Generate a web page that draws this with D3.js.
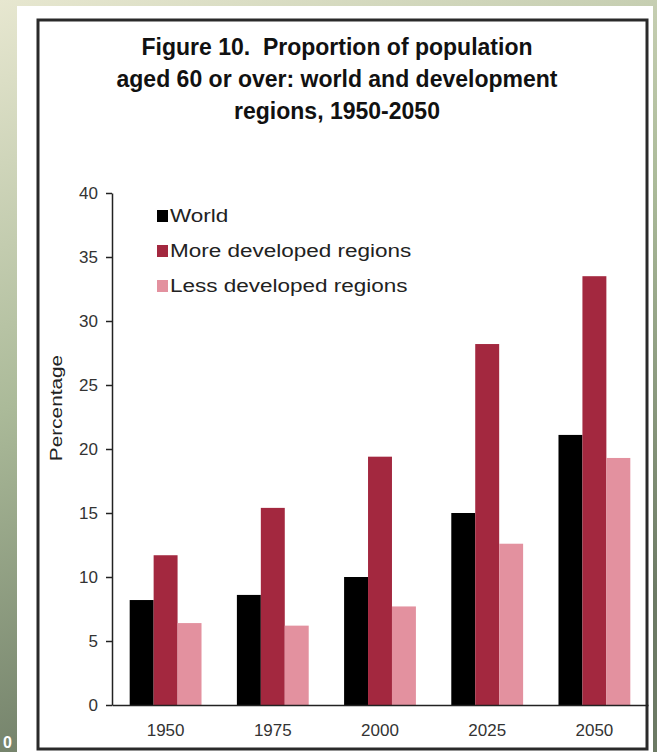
<!DOCTYPE html>
<html>
<head>
<meta charset="utf-8">
<script src="https://cdn.jsdelivr.net/npm/d3@7"></script>
<style>
  body { margin: 0; padding: 0; overflow: hidden; }
  svg { display: block; }
</style>
</head>
<body>
<script>
const width = 657;
const height = 752;

const years = ["1950", "1975", "2000", "2025", "2050"];
const seriesNames = ["World", "More developed regions", "Less developed regions"];
const seriesColors = ["#000000", "#a3283f", "#e3919f"];
const world = [8.2, 8.6, 10.0, 15.0, 21.1];
const moreDeveloped = [11.7, 15.4, 19.4, 28.2, 33.5];
const lessDeveloped = [6.4, 6.2, 7.7, 12.6, 19.3];
const yTicks = [0, 5, 10, 15, 20, 25, 30, 35, 40];
const titleLines = [
    "Figure 10.  Proportion of population",
    "aged 60 or over: world and development",
    "regions, 1950-2050"
];

const series = [world, moreDeveloped, lessDeveloped];
const fontFamily = "'Liberation Sans', Arial, sans-serif";

const svg = d3.select("body").append("svg")
    .attr("width", width)
    .attr("height", height);

// Background gradient (slide theme)
const grad = svg.append("defs").append("linearGradient")
    .attr("id", "bg")
    .attr("x1", 0).attr("y1", 0)
    .attr("x2", 0.3).attr("y2", 1);
grad.append("stop").attr("offset", 0).attr("stop-color", "#e7e7d0");
grad.append("stop").attr("offset", 0.5).attr("stop-color", "#abba99");
grad.append("stop").attr("offset", 1).attr("stop-color", "#6c7a64");

svg.append("rect")
    .attr("width", width).attr("height", height)
    .attr("fill", "url(#bg)");

// White panel and framed chart
svg.append("rect")
    .attr("x", 17).attr("y", 6)
    .attr("width", 636).attr("height", height - 6)
    .attr("fill", "white");

svg.append("rect")
    .attr("x", 38).attr("y", 20)
    .attr("width", 609).attr("height", 729)
    .attr("fill", "none")
    .attr("stroke", "#2a2a2a")
    .attr("stroke-width", 3);

svg.append("text")
    .attr("x", 3).attr("y", 748)
    .style("font-family", fontFamily)
    .style("font-size", "16px")
    .style("font-weight", "bold")
    .attr("fill", "white")
    .text("0");

// Title
svg.append("g")
    .selectAll("text")
    .data(titleLines)
    .join("text")
    .attr("x", 337)
    .attr("y", (d, i) => 55 + i * 32)
    .attr("text-anchor", "middle")
    .style("white-space", "pre")
    .style("font-family", fontFamily)
    .style("font-size", "23px")
    .style("font-weight", "bold")
    .attr("fill", "#111")
    .text(d => d);

// Scales
const x = d3.scaleBand()
    .domain(years)
    .range([112, 648])
    .paddingInner(0.33)
    .paddingOuter(0.165);

const xSub = d3.scaleBand()
    .domain(d3.range(series.length))
    .range([0, x.bandwidth()]);

const y = d3.scaleLinear()
    .domain([0, 40])
    .range([705, 193]);

// Bars
series.forEach((values, s) => {
    svg.append("g")
        .selectAll("rect")
        .data(values)
        .join("rect")
        .attr("x", (d, i) => x(years[i]) + xSub(s))
        .attr("y", d => y(d))
        .attr("width", xSub.bandwidth())
        .attr("height", d => y(0) - y(d))
        .attr("fill", seriesColors[s]);
});

// Axes
const yAxis = svg.append("g")
    .attr("transform", "translate(112,0)")
    .call(d3.axisLeft(y).tickValues(yTicks).tickSize(6).tickSizeOuter(0).tickPadding(8));

const xAxis = svg.append("g")
    .attr("transform", `translate(0,${y(0)})`)
    .call(d3.axisBottom(x).tickSize(0).tickPadding(19));

[yAxis, xAxis].forEach(g => {
    g.select(".domain").attr("stroke", "#222").attr("stroke-width", 1.5);
    g.selectAll(".tick line").attr("stroke", "#222").attr("stroke-width", 1.5);
    g.selectAll(".tick text")
        .style("font-family", fontFamily)
        .style("font-size", "17px")
        .attr("fill", "#333");
});

// Y axis title
svg.append("text")
    .attr("transform", "translate(62,408) rotate(-90) scale(1.3,1)")
    .attr("text-anchor", "middle")
    .style("font-family", fontFamily)
    .style("font-size", "16px")
    .attr("fill", "#222")
    .text("Percentage");

// Legend
const legend = svg.append("g")
    .selectAll("g")
    .data(seriesNames)
    .join("g")
    .attr("transform", (d, i) => `translate(157,${216 + i * 35})`);

legend.append("rect")
    .attr("x", 0).attr("y", -6)
    .attr("width", 11).attr("height", 12)
    .attr("fill", (d, i) => seriesColors[i]);

legend.append("text")
    .attr("transform", "translate(13,6) scale(1.25,1)")
    .style("font-family", fontFamily)
    .style("font-size", "18px")
    .attr("fill", "#222")
    .text(d => d);
</script>
</body>
</html>
